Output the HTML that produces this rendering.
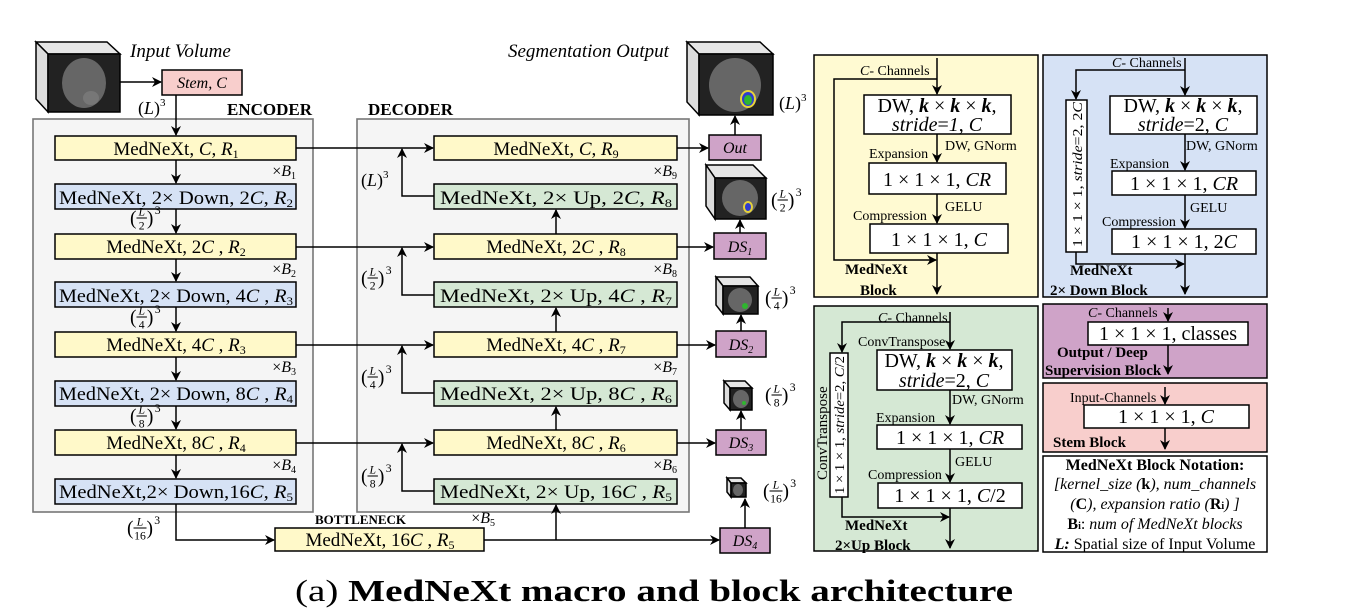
<!DOCTYPE html>
<html><head><meta charset="utf-8"><style>
html,body{margin:0;padding:0;background:#fff}
svg{display:block;font-family:"Liberation Serif",serif}
</style></head><body>
<svg width="1346" height="609" viewBox="0 0 1346 609" xmlns="http://www.w3.org/2000/svg">
<defs>
<marker id="a" markerWidth="10" markerHeight="10" refX="9" refY="5" orient="auto" markerUnits="userSpaceOnUse"><path d="M0,0 L10,5 L0,10 L3,5 z" fill="#000"/></marker>
</defs>
<g stroke="#000" stroke-width="1.6" fill="none">
<rect x="33" y="119" width="280" height="393" fill="#f5f5f5" stroke="#777"/>
<rect x="357" y="119" width="332" height="393" fill="#f5f5f5" stroke="#777"/>
</g>
<g font-size="17" font-weight="bold">
<text x="227" y="115">ENCODER</text>
<text x="368" y="115">DECODER</text>
<text x="315" y="524" font-size="13">BOTTLENECK</text>
</g>
<g font-style="italic" font-size="19">
<text x="130" y="57">Input Volume</text>
<text x="508" y="57">Segmentation Output</text>
</g>

<!-- cubes -->
<g stroke="#000" stroke-width="1.5">
<polygon points="36,42 107,42 120,54 48,54" fill="#e6e6e6"/><polygon points="36,42 48,54 48,112 36,99" fill="#dcdcdc"/><rect x="48" y="54" width="72" height="58" fill="#222"/>
<polygon points="687,42 760,42 773,54 699,54" fill="#e6e6e6"/><polygon points="687,42 699,54 699,115 687,102" fill="#dcdcdc"/><rect x="699" y="54" width="74" height="61" fill="#222"/>
<polygon points="706,165 753,165 766,178 715,178" fill="#e6e6e6"/><polygon points="706,165 715,178 715,219 706,206" fill="#dcdcdc"/><rect x="715" y="178" width="51" height="41" fill="#222"/>
<polygon points="716,277 750,277 758,286 723,286" fill="#e6e6e6"/><polygon points="716,277 723,286 723,314 716,305" fill="#dcdcdc"/><rect x="723" y="286" width="35" height="28" fill="#222"/>
<polygon points="724,381 745,381 752,388 730,388" fill="#e6e6e6"/><polygon points="724,381 730,388 730,410 724,403" fill="#dcdcdc"/><rect x="730" y="388" width="22" height="22" fill="#222"/>
<polygon points="727,478 741,478 746,483 731,483" fill="#e6e6e6"/><polygon points="727,478 731,483 731,497 727,492" fill="#dcdcdc"/><rect x="731" y="483" width="15" height="14" fill="#222"/>
</g>
<g stroke="none">
<ellipse cx="84" cy="83" rx="22" ry="25" fill="#666"/><ellipse cx="91" cy="98" rx="8" ry="7" fill="#777"/>
<ellipse cx="735" cy="85" rx="26" ry="27" fill="#666"/><ellipse cx="748" cy="99" rx="8" ry="9" fill="#e6d23a"/><ellipse cx="748" cy="99" rx="6" ry="7" fill="#2f3ccf"/><ellipse cx="748" cy="100" rx="4" ry="5" fill="#2fb52f"/>
<ellipse cx="740" cy="198" rx="18" ry="18" fill="#666"/><ellipse cx="748" cy="207" rx="5" ry="6" fill="#e6d23a"/><ellipse cx="748" cy="207" rx="3" ry="4" fill="#2f3ccf"/>
<ellipse cx="740" cy="300" rx="12" ry="12" fill="#666"/><circle cx="745" cy="306" r="3" fill="#2fb52f"/>
<ellipse cx="741" cy="399" rx="8" ry="9" fill="#666"/><circle cx="744" cy="403" r="2" fill="#2fb52f"/>
<ellipse cx="738" cy="490" rx="5" ry="6" fill="#666"/>
</g>

<!-- boxes -->
<g stroke="#000" stroke-width="1.5">
<rect x="162" y="70" width="80" height="25" fill="#f8cecc"/>
<rect x="55" y="136" width="241" height="24" fill="#fff9c9"/>
<rect x="55" y="184" width="241" height="25" fill="#d6e2f5"/>
<rect x="55" y="234" width="241" height="25" fill="#fff9c9"/>
<rect x="55" y="282" width="241" height="25" fill="#d6e2f5"/>
<rect x="55" y="332" width="241" height="25" fill="#fff9c9"/>
<rect x="55" y="381" width="241" height="25" fill="#d6e2f5"/>
<rect x="55" y="430" width="241" height="25" fill="#fff9c9"/>
<rect x="55" y="479" width="241" height="25" fill="#d6e2f5"/>
<rect x="434" y="136" width="243" height="24" fill="#fff9c9"/>
<rect x="434" y="184" width="243" height="25" fill="#d5e8d4"/>
<rect x="434" y="234" width="243" height="25" fill="#fff9c9"/>
<rect x="434" y="282" width="243" height="25" fill="#d5e8d4"/>
<rect x="434" y="332" width="243" height="25" fill="#fff9c9"/>
<rect x="434" y="381" width="243" height="25" fill="#d5e8d4"/>
<rect x="434" y="430" width="243" height="25" fill="#fff9c9"/>
<rect x="434" y="479" width="243" height="25" fill="#d5e8d4"/>
<rect x="275" y="528" width="209" height="23" fill="#fff9c9"/>
<rect x="709" y="135" width="52" height="25" fill="#cfa3c8"/>
<rect x="714" y="233" width="52" height="26" fill="#cfa3c8"/>
<rect x="716" y="331" width="50" height="26" fill="#cfa3c8"/>
<rect x="716" y="430" width="50" height="25" fill="#cfa3c8"/>
<rect x="720" y="528" width="50" height="25" fill="#cfa3c8"/>
</g>

<!-- arrows -->
<g stroke="#000" stroke-width="1.5" fill="none" marker-end="url(#a)">
<line x1="120" y1="82" x2="161" y2="82"/>
<line x1="176" y1="95" x2="176" y2="135"/>
<line x1="176" y1="160" x2="176" y2="183"/>
<line x1="176" y1="209" x2="176" y2="233"/>
<line x1="176" y1="259" x2="176" y2="281"/>
<line x1="176" y1="307" x2="176" y2="331"/>
<line x1="176" y1="357" x2="176" y2="380"/>
<line x1="176" y1="406" x2="176" y2="429"/>
<line x1="176" y1="455" x2="176" y2="478"/>
<polyline points="176,504 176,540 274,540"/>
<line x1="296" y1="148" x2="433" y2="148"/>
<line x1="296" y1="247" x2="433" y2="247"/>
<line x1="296" y1="345" x2="433" y2="345"/>
<line x1="296" y1="443" x2="433" y2="443"/>
<polyline points="434,196 402,196 402,149"/>
<polyline points="434,295 402,295 402,248"/>
<polyline points="434,393 402,393 402,346"/>
<polyline points="434,491 402,491 402,444"/>
<line x1="556" y1="234" x2="556" y2="210"/>
<line x1="556" y1="332" x2="556" y2="308"/>
<line x1="556" y1="430" x2="556" y2="407"/>
<line x1="556" y1="540" x2="556" y2="505"/>
<line x1="484" y1="540" x2="719" y2="540"/>
<line x1="677" y1="148" x2="708" y2="148"/>
<line x1="677" y1="247" x2="713" y2="247"/>
<line x1="677" y1="345" x2="715" y2="345"/>
<line x1="677" y1="443" x2="715" y2="443"/>
<line x1="735" y1="135" x2="735" y2="116"/>
<line x1="740" y1="233" x2="740" y2="220"/>
<line x1="741" y1="331" x2="741" y2="315"/>
<line x1="741" y1="430" x2="741" y2="411"/>
<line x1="745" y1="528" x2="745" y2="499"/>
</g>

<!-- box labels -->
<g font-size="19" text-anchor="middle">
<text x="202" y="88" font-size="16" font-style="italic">Stem, C</text>
<text x="176" y="155">MedNeXt, <tspan font-style="italic">C</tspan>, <tspan font-style="italic">R</tspan><tspan font-size="12" dy="3">1</tspan></text>
<text x="176" y="204" textLength="234" lengthAdjust="spacingAndGlyphs">MedNeXt, 2× Down,  2<tspan font-style="italic">C</tspan>, <tspan font-style="italic">R</tspan><tspan font-size="12" dy="3">2</tspan></text>
<text x="176" y="253">MedNeXt, 2<tspan font-style="italic">C</tspan> , <tspan font-style="italic">R</tspan><tspan font-size="12" dy="3">2</tspan></text>
<text x="176" y="302" textLength="234" lengthAdjust="spacingAndGlyphs">MedNeXt, 2× Down, 4<tspan font-style="italic">C</tspan> , <tspan font-style="italic">R</tspan><tspan font-size="12" dy="3">3</tspan></text>
<text x="176" y="351">MedNeXt, 4<tspan font-style="italic">C</tspan> , <tspan font-style="italic">R</tspan><tspan font-size="12" dy="3">3</tspan></text>
<text x="176" y="400" textLength="234" lengthAdjust="spacingAndGlyphs">MedNeXt, 2× Down, 8<tspan font-style="italic">C</tspan> , <tspan font-style="italic">R</tspan><tspan font-size="12" dy="3">4</tspan></text>
<text x="176" y="449">MedNeXt, 8<tspan font-style="italic">C</tspan> , <tspan font-style="italic">R</tspan><tspan font-size="12" dy="3">4</tspan></text>
<text x="176" y="498" textLength="234" lengthAdjust="spacingAndGlyphs">MedNeXt,2× Down,16<tspan font-style="italic">C</tspan>, <tspan font-style="italic">R</tspan><tspan font-size="12" dy="3">5</tspan></text>
<text x="556" y="155">MedNeXt, <tspan font-style="italic">C</tspan>, <tspan font-style="italic">R</tspan><tspan font-size="12" dy="3">9</tspan></text>
<text x="556" y="204" textLength="232" lengthAdjust="spacingAndGlyphs">MedNeXt, 2× Up,  2<tspan font-style="italic">C</tspan>, <tspan font-style="italic">R</tspan><tspan font-size="12" dy="3">8</tspan></text>
<text x="556" y="253">MedNeXt, 2<tspan font-style="italic">C</tspan> , <tspan font-style="italic">R</tspan><tspan font-size="12" dy="3">8</tspan></text>
<text x="556" y="302" textLength="232" lengthAdjust="spacingAndGlyphs">MedNeXt, 2× Up, 4<tspan font-style="italic">C</tspan> , <tspan font-style="italic">R</tspan><tspan font-size="12" dy="3">7</tspan></text>
<text x="556" y="351">MedNeXt, 4<tspan font-style="italic">C</tspan> , <tspan font-style="italic">R</tspan><tspan font-size="12" dy="3">7</tspan></text>
<text x="556" y="400" textLength="232" lengthAdjust="spacingAndGlyphs">MedNeXt, 2× Up, 8<tspan font-style="italic">C</tspan> , <tspan font-style="italic">R</tspan><tspan font-size="12" dy="3">6</tspan></text>
<text x="556" y="449">MedNeXt, 8<tspan font-style="italic">C</tspan> , <tspan font-style="italic">R</tspan><tspan font-size="12" dy="3">6</tspan></text>
<text x="556" y="498" textLength="232" lengthAdjust="spacingAndGlyphs">MedNeXt, 2× Up, 16<tspan font-style="italic">C</tspan> , <tspan font-style="italic">R</tspan><tspan font-size="12" dy="3">5</tspan></text>
<text x="380" y="546">MedNeXt, 16<tspan font-style="italic">C</tspan> , <tspan font-style="italic">R</tspan><tspan font-size="12" dy="3">5</tspan></text>
<g font-size="16" font-style="italic">
<text x="735" y="153">Out</text>
<text x="740" y="252">DS<tspan font-size="10" dy="3">1</tspan></text>
<text x="741" y="350">DS<tspan font-size="10" dy="3">2</tspan></text>
<text x="741" y="448">DS<tspan font-size="10" dy="3">3</tspan></text>
<text x="745" y="546">DS<tspan font-size="10" dy="3">4</tspan></text>
</g>
</g>
<g font-size="16" text-anchor="end">
<text x="296" y="176">×<tspan font-style="italic">B</tspan><tspan font-size="10" dy="3">1</tspan></text>
<text x="296" y="274">×<tspan font-style="italic">B</tspan><tspan font-size="10" dy="3">2</tspan></text>
<text x="296" y="372">×<tspan font-style="italic">B</tspan><tspan font-size="10" dy="3">3</tspan></text>
<text x="296" y="470">×<tspan font-style="italic">B</tspan><tspan font-size="10" dy="3">4</tspan></text>
<text x="677" y="176">×<tspan font-style="italic">B</tspan><tspan font-size="10" dy="3">9</tspan></text>
<text x="677" y="274">×<tspan font-style="italic">B</tspan><tspan font-size="10" dy="3">8</tspan></text>
<text x="677" y="372">×<tspan font-style="italic">B</tspan><tspan font-size="10" dy="3">7</tspan></text>
<text x="677" y="470">×<tspan font-style="italic">B</tspan><tspan font-size="10" dy="3">6</tspan></text>
<text x="495" y="523">×<tspan font-style="italic">B</tspan><tspan font-size="10" dy="3">5</tspan></text>
</g>
<g font-size="18">
<text x="138" y="114">(<tspan font-style="italic">L</tspan>)<tspan font-size="11" dy="-8">3</tspan></text>
<text x="361" y="186">(<tspan font-style="italic">L</tspan>)<tspan font-size="11" dy="-8">3</tspan></text>
<text x="779" y="109">(<tspan font-style="italic">L</tspan>)<tspan font-size="11" dy="-8">3</tspan></text>
</g>
<g font-size="15" stroke-width="0.8">
<g transform="translate(130,218) scale(1.3)"><text x="0" y="5">(</text><text x="9" y="-2" font-size="9" font-style="italic" text-anchor="middle">L</text><line x1="5" x2="13" y1="0" y2="0" stroke="#000"/><text x="9" y="9" font-size="9" text-anchor="middle">2</text><text x="13" y="5">)</text><text x="19" y="-3" font-size="9">3</text></g>
<g transform="translate(130,317) scale(1.3)"><text x="0" y="5">(</text><text x="9" y="-2" font-size="9" font-style="italic" text-anchor="middle">L</text><line x1="5" x2="13" y1="0" y2="0" stroke="#000"/><text x="9" y="9" font-size="9" text-anchor="middle">4</text><text x="13" y="5">)</text><text x="19" y="-3" font-size="9">3</text></g>
<g transform="translate(130,416) scale(1.3)"><text x="0" y="5">(</text><text x="9" y="-2" font-size="9" font-style="italic" text-anchor="middle">L</text><line x1="5" x2="13" y1="0" y2="0" stroke="#000"/><text x="9" y="9" font-size="9" text-anchor="middle">8</text><text x="13" y="5">)</text><text x="19" y="-3" font-size="9">3</text></g>
<g transform="translate(127,528) scale(1.3)"><text x="0" y="5">(</text><text x="10" y="-2" font-size="9" font-style="italic" text-anchor="middle">L</text><line x1="5" x2="15" y1="0" y2="0" stroke="#000"/><text x="10" y="9" font-size="9" text-anchor="middle">16</text><text x="15" y="5">)</text><text x="21" y="-3" font-size="9">3</text></g>
<g transform="translate(361,278) scale(1.3)"><text x="0" y="5">(</text><text x="9" y="-2" font-size="9" font-style="italic" text-anchor="middle">L</text><line x1="5" x2="13" y1="0" y2="0" stroke="#000"/><text x="9" y="9" font-size="9" text-anchor="middle">2</text><text x="13" y="5">)</text><text x="19" y="-3" font-size="9">3</text></g>
<g transform="translate(361,377) scale(1.3)"><text x="0" y="5">(</text><text x="9" y="-2" font-size="9" font-style="italic" text-anchor="middle">L</text><line x1="5" x2="13" y1="0" y2="0" stroke="#000"/><text x="9" y="9" font-size="9" text-anchor="middle">4</text><text x="13" y="5">)</text><text x="19" y="-3" font-size="9">3</text></g>
<g transform="translate(361,476) scale(1.3)"><text x="0" y="5">(</text><text x="9" y="-2" font-size="9" font-style="italic" text-anchor="middle">L</text><line x1="5" x2="13" y1="0" y2="0" stroke="#000"/><text x="9" y="9" font-size="9" text-anchor="middle">8</text><text x="13" y="5">)</text><text x="19" y="-3" font-size="9">3</text></g>
<g transform="translate(771,200) scale(1.3)"><text x="0" y="5">(</text><text x="9" y="-2" font-size="9" font-style="italic" text-anchor="middle">L</text><line x1="5" x2="13" y1="0" y2="0" stroke="#000"/><text x="9" y="9" font-size="9" text-anchor="middle">2</text><text x="13" y="5">)</text><text x="19" y="-3" font-size="9">3</text></g>
<g transform="translate(765,298) scale(1.3)"><text x="0" y="5">(</text><text x="9" y="-2" font-size="9" font-style="italic" text-anchor="middle">L</text><line x1="5" x2="13" y1="0" y2="0" stroke="#000"/><text x="9" y="9" font-size="9" text-anchor="middle">4</text><text x="13" y="5">)</text><text x="19" y="-3" font-size="9">3</text></g>
<g transform="translate(765,395) scale(1.3)"><text x="0" y="5">(</text><text x="9" y="-2" font-size="9" font-style="italic" text-anchor="middle">L</text><line x1="5" x2="13" y1="0" y2="0" stroke="#000"/><text x="9" y="9" font-size="9" text-anchor="middle">8</text><text x="13" y="5">)</text><text x="19" y="-3" font-size="9">3</text></g>
<g transform="translate(763,491) scale(1.3)"><text x="0" y="5">(</text><text x="10" y="-2" font-size="9" font-style="italic" text-anchor="middle">L</text><line x1="5" x2="15" y1="0" y2="0" stroke="#000"/><text x="10" y="9" font-size="9" text-anchor="middle">16</text><text x="15" y="5">)</text><text x="21" y="-3" font-size="9">3</text></g>
</g>

<!-- right panels -->
<g stroke="#000" stroke-width="1.5">
<rect x="814" y="55" width="224" height="242" fill="#fffad2"/>
<rect x="1043" y="55" width="224" height="242" fill="#d6e2f5"/>
<rect x="814" y="306" width="224" height="245" fill="#d5e8d4"/>
<rect x="1043" y="304" width="224" height="74" fill="#cfa3c8"/>
<rect x="1043" y="383" width="224" height="69" fill="#f8cecc"/>
<rect x="1043" y="456" width="224" height="96" fill="#fff"/>
<g fill="#fff">
<rect x="864" y="95" width="147" height="39"/>
<rect x="869" y="163" width="137" height="31"/>
<rect x="870" y="224" width="138" height="29"/>
<rect x="1110" y="96" width="147" height="38"/>
<rect x="1066" y="100" width="21" height="152"/>
<rect x="1112" y="171" width="144" height="24"/>
<rect x="1112" y="229" width="144" height="25"/>
<rect x="830" y="353" width="18" height="144"/>
<rect x="877" y="350" width="135" height="40"/>
<rect x="877" y="425" width="145" height="24"/>
<rect x="878" y="483" width="144" height="25"/>
<rect x="1088" y="322" width="160" height="23"/>
<rect x="1084" y="405" width="165" height="23"/>
</g>
</g>
<g stroke="#000" stroke-width="1.5" fill="none" marker-end="url(#a)">
<line x1="937" y1="58" x2="937" y2="94"/>
<line x1="937" y1="134" x2="937" y2="162"/>
<line x1="937" y1="194" x2="937" y2="223"/>
<line x1="937" y1="253" x2="937" y2="294"/>
<polyline points="937,79 834,79 834,260 936,260"/>
<line x1="1185" y1="58" x2="1185" y2="95"/>
<line x1="1185" y1="134" x2="1185" y2="170"/>
<line x1="1185" y1="195" x2="1185" y2="228"/>
<line x1="1185" y1="254" x2="1185" y2="294"/>
<polyline points="1185,70 1076,70 1076,99"/>
<polyline points="1076,252 1076,264 1184,264"/>
<line x1="950" y1="312" x2="950" y2="349"/>
<line x1="950" y1="390" x2="950" y2="424"/>
<line x1="950" y1="449" x2="950" y2="482"/>
<line x1="950" y1="508" x2="950" y2="548"/>
<polyline points="950,322 842,322 842,352"/>
<polyline points="842,497 842,517 949,517"/>
<line x1="1168" y1="308" x2="1168" y2="321"/>
<line x1="1168" y1="345" x2="1168" y2="374"/>
<line x1="1165" y1="387" x2="1165" y2="404"/>
<line x1="1165" y1="428" x2="1165" y2="449"/>
</g>
<g font-size="14">
<text x="860" y="75"><tspan font-style="italic">C</tspan>- Channels</text>
<text x="945" y="150">DW, GNorm</text>
<text x="869" y="158">Expansion</text>
<text x="945" y="211">GELU</text>
<text x="853" y="220">Compression</text>
<text x="1112" y="67"><tspan font-style="italic">C</tspan>- Channels</text>
<text x="1186" y="150">DW, GNorm</text>
<text x="1110" y="168">Expansion</text>
<text x="1190" y="212">GELU</text>
<text x="1102" y="226">Compression</text>
<text x="878" y="322"><tspan font-style="italic">C</tspan>- Channels</text>
<text x="858" y="346">ConvTranspose</text>
<text x="952" y="404">DW, GNorm</text>
<text x="876" y="422">Expansion</text>
<text x="955" y="466">GELU</text>
<text x="868" y="479">Compression</text>
<text x="1088" y="317"><tspan font-style="italic">C</tspan>- Channels</text>
<text x="1070" y="402">Input-Channels</text>
</g>
<g font-size="15" font-weight="bold">
<text x="845" y="274">MedNeXt</text>
<text x="860" y="295">Block</text>
<text x="1070" y="275">MedNeXt</text>
<text x="1050" y="295">2× Down Block</text>
<text x="845" y="530">MedNeXt</text>
<text x="835" y="550">2×Up Block</text>
<text x="1057" y="357">Output / Deep</text>
<text x="1045" y="375">Supervision Block</text>
<text x="1053" y="447">Stem Block</text>
</g>
<g font-size="20" text-anchor="middle">
<text x="937" y="112">DW, <tspan font-style="italic" font-weight="bold">k</tspan> × <tspan font-style="italic" font-weight="bold">k</tspan> × <tspan font-style="italic" font-weight="bold">k</tspan>,</text>
<text x="937" y="131"><tspan font-style="italic">stride</tspan>=<tspan font-style="italic">1</tspan>, <tspan font-style="italic">C</tspan></text>
<text x="937" y="186">1 × 1 × 1, <tspan font-style="italic">CR</tspan></text>
<text x="939" y="246">1 × 1 × 1, <tspan font-style="italic">C</tspan></text>
<text x="1183" y="112">DW, <tspan font-style="italic" font-weight="bold">k</tspan> × <tspan font-style="italic" font-weight="bold">k</tspan> × <tspan font-style="italic" font-weight="bold">k</tspan>,</text>
<text x="1183" y="131"><tspan font-style="italic">stride</tspan>=2, <tspan font-style="italic">C</tspan></text>
<text x="1184" y="190">1 × 1 × 1, <tspan font-style="italic">CR</tspan></text>
<text x="1184" y="248">1 × 1 × 1, 2<tspan font-style="italic">C</tspan></text>
<text x="944" y="367">DW, <tspan font-style="italic" font-weight="bold">k</tspan> × <tspan font-style="italic" font-weight="bold">k</tspan> × <tspan font-style="italic" font-weight="bold">k</tspan>,</text>
<text x="944" y="387"><tspan font-style="italic">stride</tspan>=2, <tspan font-style="italic">C</tspan></text>
<text x="950" y="444">1 × 1 × 1, <tspan font-style="italic">CR</tspan></text>
<text x="950" y="502">1 × 1 × 1, <tspan font-style="italic">C</tspan>/2</text>
<text x="1168" y="340">1 × 1 × 1, classes</text>
<text x="1166" y="423">1 × 1 × 1, <tspan font-style="italic">C</tspan></text>
</g>
<g font-size="14">
<text transform="translate(1082,247) rotate(-90)" textLength="145" lengthAdjust="spacingAndGlyphs">1 × 1 × 1, <tspan font-style="italic">stride</tspan>=2, 2<tspan font-style="italic">C</tspan></text>
<text transform="translate(844,494) rotate(-90)" textLength="138" lengthAdjust="spacingAndGlyphs">1 × 1 × 1, <tspan font-style="italic">stride</tspan>=2, <tspan font-style="italic">C</tspan>/2</text>
<text transform="translate(827,480) rotate(-90)" font-size="15">ConvTranspose</text>
</g>
<g font-size="16" text-anchor="middle">
<text x="1155" y="470" font-weight="bold">MedNeXt Block Notation:</text>
<text x="1155" y="489" font-style="italic">[kernel_size (<tspan font-weight="bold" font-style="normal">k</tspan>), num_channels</text>
<text x="1155" y="509" font-style="italic">(<tspan font-weight="bold" font-style="normal">C</tspan>), expansion ratio (<tspan font-weight="bold" font-style="normal">R<tspan font-size="10">i</tspan></tspan>) ]</text>
<text x="1155" y="529"><tspan font-weight="bold">B<tspan font-size="10">i</tspan></tspan>: <tspan font-style="italic">num of MedNeXt blocks</tspan></text>
<text x="1155" y="549"><tspan font-weight="bold" font-style="italic">L:</tspan> Spatial size of Input Volume</text>
</g>
<text x="654" y="601" font-size="31" text-anchor="middle" textLength="718" lengthAdjust="spacingAndGlyphs">(a) <tspan font-weight="bold">MedNeXt macro and block architecture</tspan></text>
</svg>
</body></html>
